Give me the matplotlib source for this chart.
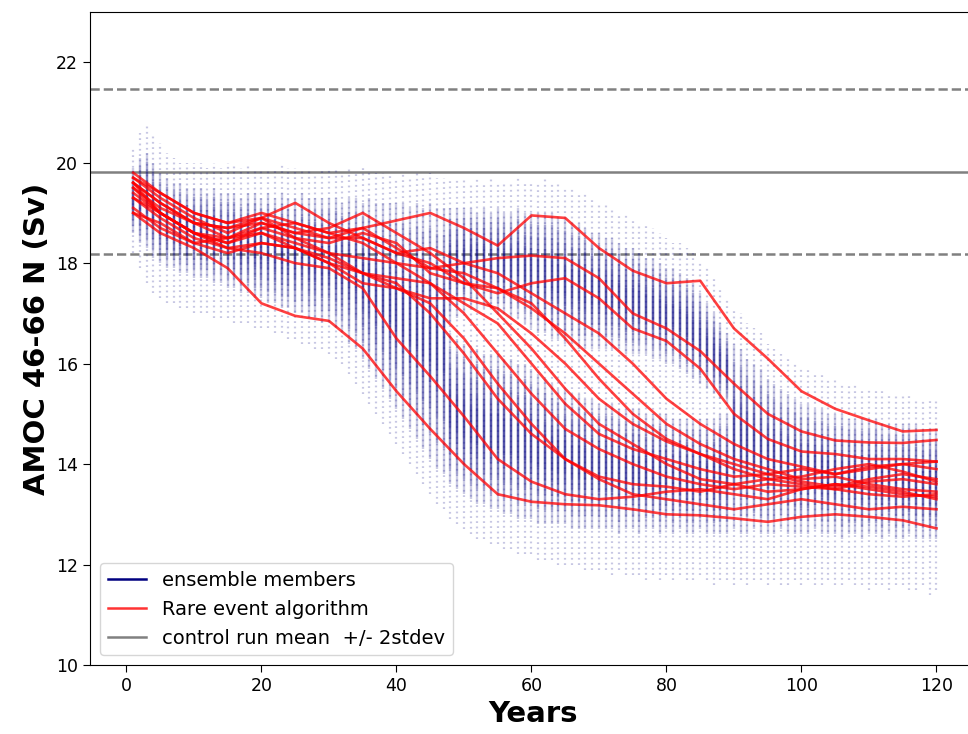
import matplotlib
matplotlib.use("Agg")

import matplotlib.pyplot as plt
from matplotlib.lines import Line2D
import numpy as np

# -- ensemble cloud, one stripe per model year (Sv) --
OUTER_HI = [20.3, 20.6, 20.8, 20.6, 20.4, 20.2, 20.1, 20.0, 20.0, 20.0,
            20.0, 19.9, 20.0, 19.9, 20.0, 20.0, 19.9, 20.0, 19.9, 19.9,
            19.9, 19.9, 20.0, 19.9, 19.9, 19.9, 19.9, 19.8, 19.9, 19.9,
            19.9, 19.8, 19.9, 19.8, 19.9, 19.8, 19.8, 19.8, 19.8, 19.7,
            19.8, 19.7, 19.8, 19.7, 19.8, 19.7, 19.7, 19.7, 19.7, 19.7,
            19.6, 19.7, 19.6, 19.7, 19.6, 19.6, 19.6, 19.7, 19.6, 19.6,
            19.6, 19.7, 19.6, 19.6, 19.5, 19.5, 19.4, 19.4, 19.3, 19.2,
            19.2, 19.1, 19.0, 19.0, 18.9, 18.8, 18.8, 18.7, 18.6, 18.5,
            18.4, 18.4, 18.3, 18.2, 18.0, 17.9, 17.7, 17.5, 17.3, 17.1,
            17.0, 16.8, 16.7, 16.6, 16.4, 16.3, 16.2, 16.1, 16.0, 15.9,
            15.9, 15.8, 15.8, 15.7, 15.7, 15.6, 15.6, 15.6, 15.5, 15.5,
            15.5, 15.5, 15.4, 15.4, 15.4, 15.4, 15.3, 15.3, 15.3, 15.3]
CORE_HI = [19.9, 20.1, 20.2, 20.0, 19.8, 19.7, 19.6, 19.6, 19.5, 19.5,
           19.5, 19.4, 19.5, 19.4, 19.4, 19.4, 19.3, 19.4, 19.4, 19.3,
           19.4, 19.3, 19.4, 19.3, 19.3, 19.4, 19.3, 19.3, 19.3, 19.3,
           19.3, 19.2, 19.3, 19.3, 19.2, 19.3, 19.2, 19.2, 19.2, 19.2,
           19.2, 19.1, 19.2, 19.1, 19.2, 19.1, 19.1, 19.1, 19.1, 19.1,
           19.1, 19.0, 19.1, 19.0, 19.1, 19.0, 19.0, 19.1, 19.0, 19.0,
           19.0, 19.0, 19.0, 18.9, 18.9, 18.8, 18.8, 18.7, 18.6, 18.6,
           18.5, 18.5, 18.4, 18.3, 18.3, 18.2, 18.1, 18.1, 18.0, 17.9,
           17.9, 17.8, 17.7, 17.6, 17.4, 17.2, 17.0, 16.8, 16.6, 16.4,
           16.3, 16.1, 16.0, 15.9, 15.7, 15.6, 15.5, 15.4, 15.3, 15.2,
           15.2, 15.1, 15.1, 15.0, 15.0, 15.0, 14.9, 14.9, 14.9, 14.9,
           14.9, 14.8, 14.8, 14.8, 14.8, 14.8, 14.8, 14.7, 14.7, 14.7]
CORE_LO = [18.6, 18.4, 18.3, 18.1, 18.0, 17.9, 17.9, 17.8, 17.8, 17.7,
           17.7, 17.7, 17.6, 17.6, 17.5, 17.5, 17.4, 17.4, 17.3, 17.3,
           17.2, 17.2, 17.1, 17.1, 17.0, 17.0, 16.9, 16.9, 16.8, 16.8,
           16.7, 16.6, 16.4, 16.3, 16.1, 15.9, 15.7, 15.5, 15.3, 15.1,
           14.9, 14.7, 14.5, 14.3, 14.1, 13.9, 13.8, 13.6, 13.5, 13.4,
           13.3, 13.2, 13.2, 13.1, 13.1, 13.0, 13.0, 12.9, 12.9, 12.9,
           12.8, 12.8, 12.8, 12.8, 12.8, 12.7, 12.7, 12.7, 12.7, 12.7,
           12.7, 12.7, 12.6, 12.7, 12.7, 12.6, 12.7, 12.7, 12.6, 12.7,
           12.6, 12.7, 12.6, 12.6, 12.7, 12.6, 12.6, 12.6, 12.6, 12.7,
           12.6, 12.6, 12.7, 12.6, 12.6, 12.6, 12.7, 12.6, 12.6, 12.6,
           12.6, 12.7, 12.6, 12.6, 12.6, 12.5, 12.6, 12.6, 12.5, 12.6,
           12.6, 12.5, 12.6, 12.5, 12.5, 12.6, 12.5, 12.5, 12.5, 12.5]
OUTER_LO = [18.2, 17.9, 17.6, 17.4, 17.3, 17.2, 17.2, 17.1, 17.1, 17.0,
            17.0, 17.0, 16.9, 16.9, 16.9, 16.8, 16.8, 16.8, 16.7, 16.7,
            16.7, 16.6, 16.6, 16.5, 16.5, 16.4, 16.4, 16.3, 16.3, 16.2,
            16.1, 16.0, 15.8, 15.6, 15.4, 15.2, 15.0, 14.8, 14.6, 14.4,
            14.2, 14.0, 13.8, 13.6, 13.4, 13.2, 13.1, 12.9, 12.8, 12.7,
            12.6, 12.5, 12.5, 12.4, 12.4, 12.3, 12.3, 12.2, 12.2, 12.2,
            12.1, 12.1, 12.1, 12.0, 12.0, 12.0, 12.0, 11.9, 11.9, 11.9,
            11.9, 11.8, 11.9, 11.8, 11.8, 11.8, 11.7, 11.8, 11.7, 11.8,
            11.7, 11.8, 11.7, 11.7, 11.8, 11.7, 11.6, 11.7, 11.7, 11.6,
            11.7, 11.6, 11.7, 11.7, 11.6, 11.7, 11.6, 11.6, 11.7, 11.6,
            11.7, 11.6, 11.6, 11.7, 11.6, 11.6, 11.7, 11.6, 11.6, 11.5,
            11.6, 11.6, 11.5, 11.6, 11.6, 11.5, 11.5, 11.6, 11.4, 11.5]

# thinly populated band between "on" and "collapsed" members, years 48-89
GAP_FIRST_YEAR = 48
GAP_LO = [16.6, 16.5, 16.4, 16.3, 16.3, 16.2, 16.2, 16.2, 16.1, 16.1,
          16.0, 16.0, 15.9, 15.8, 15.7, 15.6, 15.5, 15.5, 15.4, 15.4,
          15.3, 15.3, 15.2, 15.2, 15.2, 15.1, 15.1, 15.1, 15.1, 15.0,
          15.0, 15.0, 15.0, 14.9, 14.9, 14.9, 14.9, 14.9, 14.9, 14.9,
          15.0, 15.0]
GAP_HI = [16.8, 16.9, 17.0, 17.1, 17.1, 17.1, 17.1, 17.0, 17.0, 16.9,
          16.9, 16.8, 16.7, 16.6, 16.6, 16.5, 16.5, 16.4, 16.4, 16.3,
          16.3, 16.3, 16.3, 16.3, 16.3, 16.3, 16.2, 16.2, 16.2, 16.2,
          16.1, 16.1, 16.0, 16.0, 15.9, 15.8, 15.7, 15.6, 15.5, 15.4,
          15.3, 15.2]

# -- rare event algorithm trajectories --
RARE_YEARS = [1, 5, 10, 15, 20, 25, 30, 35, 40, 45, 50, 55, 60,
              65, 70, 75, 80, 85, 90, 95, 100, 105, 110, 115, 120]
RARE_RUNS = [
    [19.0, 18.6, 18.3, 17.9, 17.2, 16.95, 16.85, 16.3, 15.45, 14.7, 14.0, 13.4, 13.25,
     13.2, 13.18, 13.1, 13.0, 12.98, 12.92, 12.85, 12.95, 13.0, 12.95, 12.88, 12.72],
    [19.3, 19.0, 18.6, 18.3, 18.2, 18.0, 17.9, 17.5, 16.5, 15.75, 14.95, 14.1, 13.65,
     13.4, 13.3, 13.35, 13.45, 13.5, 13.4, 13.3, 13.5, 13.6, 13.5, 13.4, 13.35],
    [19.5, 19.0, 18.6, 18.4, 18.6, 18.3, 18.0, 17.8, 17.6, 17.0, 16.2, 15.3, 14.6,
     14.1, 13.75, 13.6, 13.55, 13.45, 13.6, 13.7, 13.6, 13.5, 13.65, 13.7, 13.6],
    [19.0, 18.8, 18.4, 18.2, 18.4, 18.3, 18.1, 17.8, 17.5, 17.2, 16.5, 15.6, 14.8,
     14.1, 13.7, 13.4, 13.3, 13.2, 13.1, 13.2, 13.3, 13.2, 13.1, 13.15, 13.1],
    [19.8, 19.4, 19.0, 18.8, 19.0, 18.8, 18.6, 18.4, 18.0, 17.6, 17.0, 16.2, 15.4,
     14.7, 14.3, 14.0, 13.75, 13.6, 13.5, 13.6, 13.55, 13.5, 13.4, 13.35, 13.4],
    [19.1, 18.7, 18.4, 18.5, 18.8, 18.6, 18.7, 19.0, 18.6, 18.2, 17.7, 17.0, 16.3,
     15.5, 14.8, 14.4, 14.0, 13.7, 13.6, 13.45, 13.5, 13.6, 13.55, 13.45, 13.3],
    [19.6, 19.2, 18.8, 18.7, 18.9, 18.5, 18.2, 17.8, 17.7, 17.6, 17.2, 16.8, 16.0,
     15.2, 14.6, 14.3, 14.1, 13.9, 13.75, 13.8, 13.9, 13.8, 13.95, 14.0, 13.9],
    [19.3, 18.9, 18.5, 18.3, 18.4, 18.3, 18.0, 17.6, 17.5, 17.3, 17.3, 17.1, 16.6,
     16.0, 15.3, 14.8, 14.45, 14.2, 14.0, 13.8, 13.65, 13.55, 13.7, 13.8, 13.7],
    [19.6, 19.0, 18.6, 18.4, 18.7, 18.5, 18.4, 18.6, 18.4, 17.8, 17.6, 17.5, 17.2,
     16.5, 15.7, 15.0, 14.5, 14.2, 13.9, 13.7, 13.75, 13.9, 14.0, 13.85, 13.65],
    [19.4, 19.0, 18.6, 18.5, 18.7, 18.8, 18.6, 18.7, 18.3, 17.9, 17.8, 17.5, 17.1,
     16.6, 16.0, 15.4, 14.8, 14.4, 14.1, 13.9, 13.7, 13.75, 13.6, 13.5, 13.45],
    [19.7, 19.3, 18.9, 18.6, 18.9, 19.2, 18.8, 18.5, 18.2, 18.3, 18.0, 17.8, 17.4,
     17.0, 16.6, 16.0, 15.3, 14.8, 14.4, 14.1, 13.95, 13.8, 13.9, 14.0, 14.05],
    [19.7, 19.4, 19.0, 18.8, 18.9, 18.7, 18.5, 18.5, 18.2, 18.0, 17.6, 17.4, 17.6,
     17.7, 17.3, 16.7, 16.45, 15.9, 15.0, 14.5, 14.25, 14.2, 14.1, 14.1, 14.05],
    [19.6, 19.2, 18.8, 18.5, 18.6, 18.4, 18.2, 18.1, 18.0, 17.9, 18.0, 18.1, 18.15,
     18.1, 17.7, 17.0, 16.7, 16.25, 15.6, 15.0, 14.65, 14.47, 14.43, 14.42, 14.48],
    [19.5, 19.1, 18.8, 18.7, 18.8, 18.6, 18.5, 18.7, 18.85, 19.0, 18.7, 18.35, 18.95,
     18.9, 18.3, 17.85, 17.6, 17.65, 16.7, 16.1, 15.45, 15.1, 14.87, 14.65, 14.68],
]

# control run statistics
CTRL_MEAN = 19.82
CTRL_STD = 0.82

NAVY = "#000080"
RED = "#ff0000"
GREY = "#808080"

fig = plt.figure(figsize=(9.68, 7.34), dpi=100)
ax = fig.add_axes([90 / 968, 69 / 734, 887 / 968, 653 / 734])

years = np.arange(1, len(OUTER_LO) + 1)

# control run mean and +/- 2 stdev
ax.axhline(CTRL_MEAN, color=GREY, lw=1.8, zorder=1)
for k in (-2, 2):
    ax.axhline(CTRL_MEAN + k * CTRL_STD, color=GREY, lw=1.8, ls="--", zorder=1)

# faint, sparsely dotted outer envelope of the members
ax.vlines(years, OUTER_LO, OUTER_HI, color=NAVY, alpha=0.22, lw=1.6,
          linestyles=[(0, (0.8, 1.6))], zorder=2)

# dense part, split around the thinly populated band
seg_x, seg_lo, seg_hi = [], [], []
for i, yr in enumerate(years):
    lo, hi = CORE_LO[i], CORE_HI[i]
    g = yr - GAP_FIRST_YEAR
    if 0 <= g < len(GAP_LO):
        pieces = [(lo, GAP_LO[g]), (GAP_HI[g], hi)]
    else:
        pieces = [(lo, hi)]
    for a, b in pieces:
        seg_x.append(yr)
        seg_lo.append(a)
        seg_hi.append(b)
seg_lo = np.array(seg_lo)
seg_hi = np.array(seg_hi)
span = seg_hi - seg_lo

# stacked translucent layers give a fade towards the edges of each stripe
for shrink in (0.0, 0.1, 0.2, 0.3, 0.38):
    ax.vlines(seg_x, seg_lo + shrink * span, seg_hi - shrink * span,
              color=NAVY, alpha=0.2, lw=1.7, zorder=2)

# rare event trajectories
for run in RARE_RUNS:
    ax.plot(RARE_YEARS, run, color=RED, lw=1.9, alpha=0.75, zorder=3)

ax.set_xlim(-5.4, 126)
ax.set_ylim(10, 23)
ax.set_xticks([0, 20, 40, 60, 80, 100, 120])
ax.set_yticks([10, 12, 14, 16, 18, 20, 22])
ax.tick_params(labelsize=12.5, length=5)
ax.set_xlabel("Years", fontsize=21, fontweight="bold")
ax.set_ylabel("AMOC 46-66 N (Sv)", fontsize=21, fontweight="bold")

handles = [
    Line2D([], [], color=NAVY, lw=1.8),
    Line2D([], [], color=RED, lw=1.8, alpha=0.8),
    Line2D([], [], color=GREY, lw=1.8),
]
labels = ["ensemble members", "Rare event algorithm", "control run mean  +/- 2stdev"]
ax.legend(handles, labels, loc="lower left", fontsize=14)

fig.savefig("out.png", dpi=100)
